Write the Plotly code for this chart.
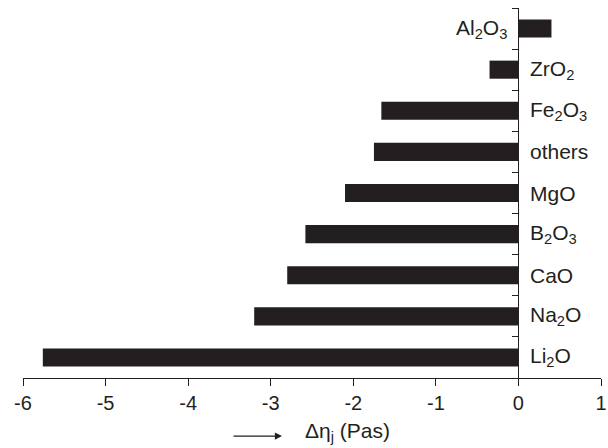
import plotly.graph_objects as go

categories = ["Li2O", "Na2O", "CaO", "B2O3", "MgO", "others", "Fe2O3", "ZrO2", "Al2O3"]
labels = ["Li<sub>2</sub>O", "Na<sub>2</sub>O", "CaO", "B<sub>2</sub>O<sub>3</sub>", "MgO",
          "others", "Fe<sub>2</sub>O<sub>3</sub>", "ZrO<sub>2</sub>", "Al<sub>2</sub>O<sub>3</sub>"]
values = [-5.76, -3.2, -2.8, -2.58, -2.1, -1.75, -1.66, -0.35, 0.4]
x_ticks = [-6, -5, -4, -3, -2, -1, 0, 1]

FONT = "Liberation Sans, Arial, sans-serif"
INK = "#231f20"
pos = list(range(len(categories)))

fig = go.Figure()
fig.add_trace(go.Bar(
    x=values, y=pos, orientation="h", width=0.44,
    marker=dict(color=INK, line=dict(width=0)),
    hovertext=categories,
))

for p, lab, v in zip(pos, labels, values):
    fig.add_annotation(
        x=0, y=p, xref="x", yref="y", text=lab, showarrow=False,
        xanchor="right" if v > 0 else "left", xshift=-9 if v > 0 else 10,
        font=dict(family=FONT, size=21, color=INK),
    )

# axis title with arrow
fig.add_annotation(
    x=(304 - 23) / 578, y=-0.145, xref="paper", yref="paper", yanchor="middle", xanchor="left",
    text="Δη<sub>j</sub> (Pas)", showarrow=False, borderpad=0,
    font=dict(family=FONT, size=21, color=INK),
)
fig.add_annotation(
    x=(282 - 23) / 578, y=-0.157, xref="paper", yref="paper", ax=-50, ay=0,
    text="", showarrow=True, arrowhead=2, arrowsize=1.1, arrowwidth=1.3,
    arrowcolor=INK,
)

fig.update_layout(
    width=608, height=448,
    margin=dict(l=23, r=7, t=8, b=70),
    plot_bgcolor="white", paper_bgcolor="white",
    showlegend=False,
    font=dict(family=FONT, size=20, color=INK),
    xaxis=dict(
        range=[-6, 1], tickvals=x_ticks, ticktext=[str(t) for t in x_ticks],
        showgrid=False, zeroline=False, showline=True, linecolor=INK, linewidth=1,
        ticks="outside", ticklen=7, tickcolor=INK, tickwidth=1, automargin=False,
        tickfont=dict(family=FONT, size=20, color=INK),
    ),
    yaxis=dict(
        range=[-0.5, 8.5], tickvals=[i - 0.5 for i in range(len(categories) + 1)],
        ticktext=[""] * (len(categories) + 1), automargin=False,
        showgrid=False, zeroline=False, showline=True, linecolor=INK, linewidth=1,
        ticks="outside", ticklen=6, tickcolor=INK, tickwidth=1,
        anchor="free", position=6 / 7,
    ),
)

fig.write_html("out.html")
